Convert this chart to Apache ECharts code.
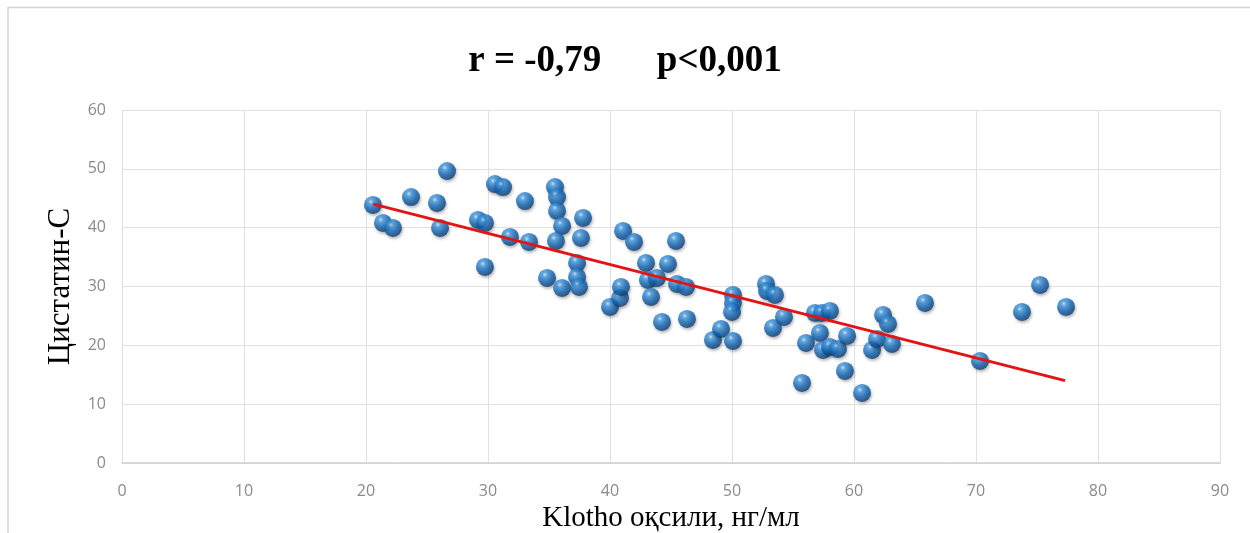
<!DOCTYPE html>
<html>
<head>
<meta charset="utf-8">
<script src="https://cdn.jsdelivr.net/npm/echarts@6/dist/echarts.min.js"></script>
<style>
html,body{margin:0;padding:0;background:#fff;}
#chart{width:1250px;height:533px;}
</style>
</head>
<body>
<div id="chart"></div>
<script>
// Klotho (x) values
const klotho = [20.57,21.39,22.21,23.69,25.82,26.07,26.64,29.18,29.75,29.75,30.57,31.23,31.80,33.03,33.36,34.84,35.49,35.66,35.66,36.07,35.57,36.07,37.79,37.62,37.30,37.30,37.46,40.00,40.82,40.90,41.07,41.97,42.95,44.75,43.11,43.85,43.36,45.49,46.23,45.41,44.26,46.31,48.44,49.10,50.08,50.08,50.08,50.00,52.79,52.87,53.52,54.26,53.36,55.74,56.07,56.80,57.38,58.03,57.21,57.46,58.03,58.69,59.43,59.26,60.66,61.48,61.89,62.38,62.79,63.11,65.82,70.33,73.77,75.25,77.38];
// Cystatin-C (y) values
const cystatin = [43.86,40.80,39.95,45.21,44.20,39.95,49.63,41.31,40.80,33.32,47.42,46.91,38.42,44.53,37.57,31.45,46.91,45.21,42.84,40.29,37.74,29.75,41.65,38.25,34.00,31.62,29.92,26.52,28.05,29.92,39.44,37.57,34.00,33.83,31.11,31.45,28.22,30.43,29.92,37.74,23.97,24.48,20.91,22.78,20.74,28.56,27.20,25.67,30.43,29.24,28.56,24.82,22.95,13.60,20.40,25.50,25.50,25.84,22.10,19.21,19.72,19.38,21.59,15.64,11.90,19.21,21.08,25.16,23.63,20.23,27.20,17.34,25.67,30.26,26.52];
// Trend line end points
const trendX = [20.6, 77.3];
const trendY = [44.0, 14.0];
const xTicks = [0,10,20,30,40,50,60,70,80,90];
const yTicks = [0,10,20,30,40,50,60];
const titleText = 'r = -0,79      p<0,001';
const xName = 'Klotho оқсили, нг/мл';
const yName = 'Цистатин-С';

const points = klotho.map((x, i) => [x, cystatin[i]]);
const trend = trendX.map((x, i) => [x, trendY[i]]);

const chart = echarts.init(document.getElementById('chart'), null, {renderer: 'canvas'});
const sphere = new echarts.graphic.RadialGradient(0.38, 0.32, 0.72, [
  {offset: 0, color: '#d6ecff'},
  {offset: 0.18, color: '#4a9fe6'},
  {offset: 0.55, color: '#166ab8'},
  {offset: 1, color: '#0a376e'}
]);
chart.setOption({
  backgroundColor: '#ffffff',
  animation: false,
  title: {
    text: titleText,
    left: 'center',
    top: 38,
    textStyle: {fontFamily: 'Liberation Serif', fontWeight: 'bold', fontSize: 37, color: '#000'}
  },
  graphic: [{
    type: 'polyline',
    shape: {points: [[8, 533], [8, 7.5], [1250, 7.5]]},
    style: {stroke: '#d4d4d4', lineWidth: 1.5, fill: null},
    silent: true
  }],
  grid: {left: 122, right: 30, top: 110, bottom: 70, containLabel: false, outerBoundsMode: 'none'},
  xAxis: {
    type: 'value', min: xTicks[0], max: xTicks[xTicks.length - 1], interval: 10,
    name: xName, nameLocation: 'middle', nameGap: 38,
    nameTextStyle: {fontFamily: 'Liberation Serif', fontSize: 29, color: '#000'},
    axisLine: {show: true, lineStyle: {color: '#d0d0d0', width: 1.5}},
    axisTick: {show: false},
    axisLabel: {margin: 20, fontFamily: 'Open Sans', fontSize: 16, color: '#8a8a8a'},
    splitLine: {show: true, lineStyle: {color: '#e0e0e0', width: 1}}
  },
  yAxis: {
    type: 'value', min: yTicks[0], max: yTicks[yTicks.length - 1], interval: 10,
    name: yName, nameLocation: 'middle', nameGap: 46,
    nameTextStyle: {fontFamily: 'Liberation Serif', fontSize: 31, color: '#000'},
    axisLine: {show: false},
    axisTick: {show: false},
    axisLabel: {margin: 16, fontFamily: 'Open Sans', fontSize: 16, color: '#8a8a8a'},
    splitLine: {show: true, lineStyle: {color: '#e0e0e0', width: 1}}
  },
  series: [{
    type: 'scatter',
    data: points,
    symbolSize: 18,
    itemStyle: {color: sphere, shadowBlur: 3, shadowColor: 'rgba(0,0,0,0.35)', shadowOffsetX: 1, shadowOffsetY: 2},
    z: 2
  }, {
    type: 'line',
    data: trend,
    symbol: 'none',
    lineStyle: {color: '#e31414', width: 3},
    z: 3
  }]
});
</script>
</body>
</html>
